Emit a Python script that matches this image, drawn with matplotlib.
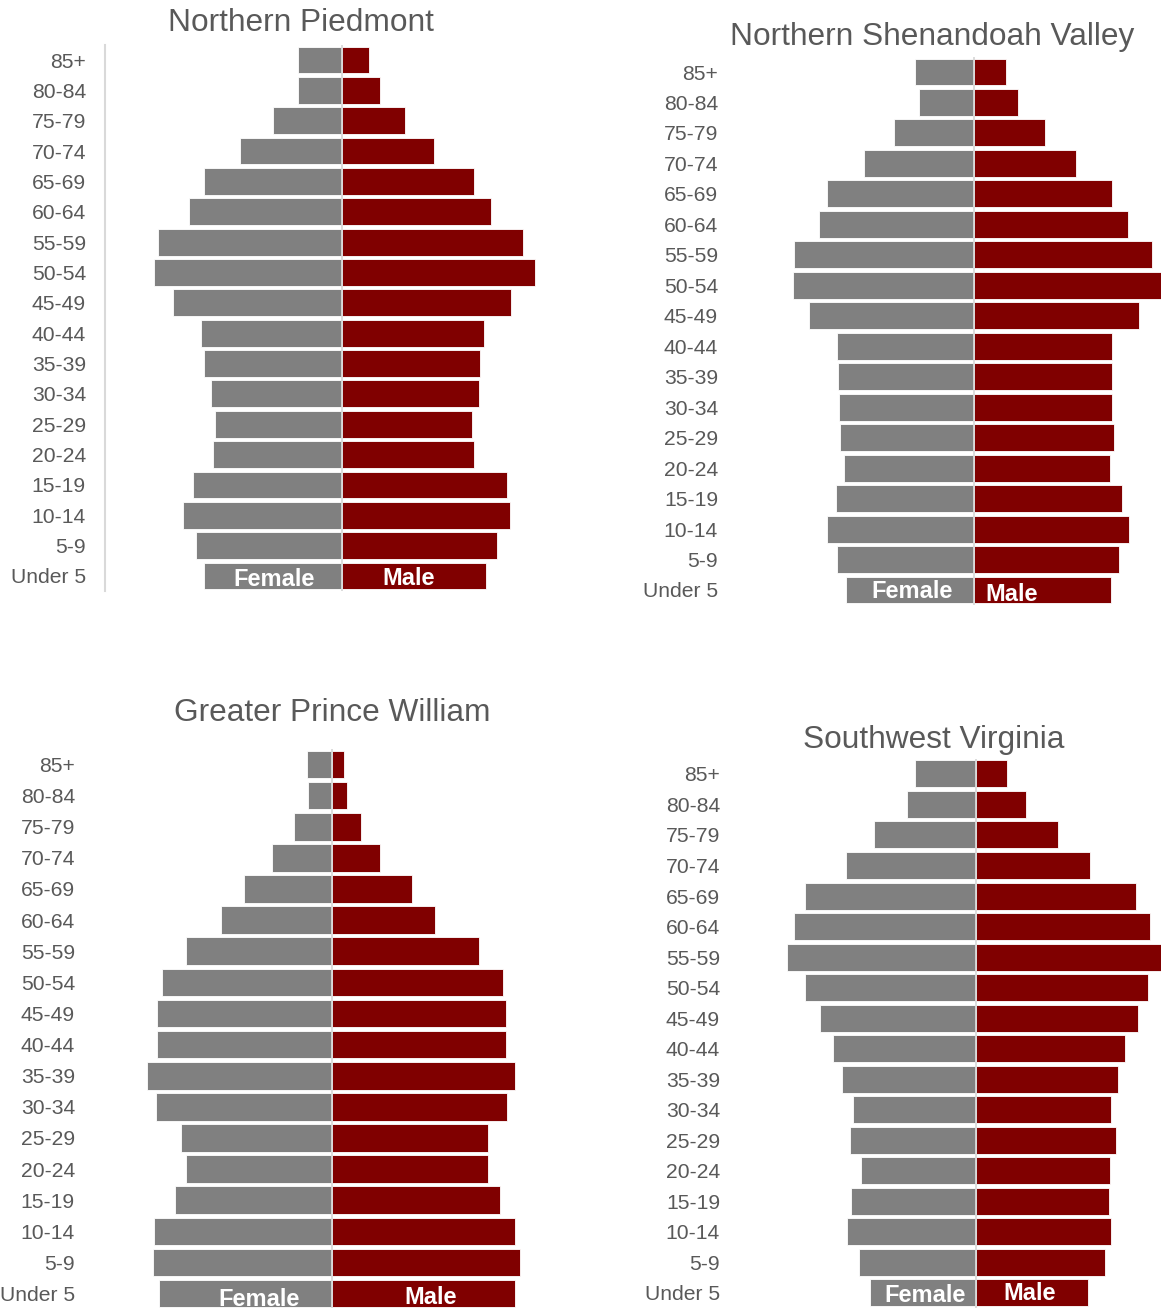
import matplotlib
matplotlib.use("Agg")
import matplotlib.pyplot as plt
import numpy as np

plt.rcParams['font.family'] = ['Liberation Sans', 'DejaVu Sans']

# ---------------- data (percent of population), top row = 85+ ----------------
ages = ["85+", "80-84", "75-79", "70-74", "65-69", "60-64", "55-59", "50-54",
        "45-49", "40-44", "35-39", "30-34", "25-29", "20-24", "15-19", "10-14",
        "5-9", "Under 5"]

piedmont_female = [0.93, 0.94, 1.47, 2.17, 2.93, 3.27, 3.91, 4.01, 3.59, 3.00,
                   2.93, 2.79, 2.70, 2.75, 3.17, 3.39, 3.12, 2.93]
piedmont_male = [0.58, 0.80, 1.33, 1.96, 2.80, 3.16, 3.84, 4.10, 3.59, 3.01,
                 2.94, 2.92, 2.76, 2.81, 3.50, 3.57, 3.29, 3.07]

shenandoah_female = [1.24, 1.16, 1.70, 2.34, 3.11, 3.28, 3.81, 3.85, 3.49, 2.90,
                     2.89, 2.86, 2.84, 2.76, 2.93, 3.11, 2.91, 2.72]
shenandoah_male = [0.69, 0.95, 1.52, 2.19, 2.94, 3.29, 3.80, 4.20, 3.53, 2.94,
                   2.94, 2.94, 2.99, 2.91, 3.16, 3.30, 3.10, 2.93]

pwilliam_female = [0.53, 0.49, 0.79, 1.27, 1.87, 2.35, 3.10, 3.60, 3.72, 3.72,
                   3.92, 3.73, 3.21, 3.10, 3.34, 3.77, 3.79, 3.66]
pwilliam_male = [0.26, 0.32, 0.63, 1.04, 1.72, 2.20, 3.14, 3.64, 3.71, 3.72,
                 3.91, 3.73, 3.33, 3.32, 3.59, 3.91, 4.01, 3.91]

swva_female = [1.29, 1.47, 2.17, 2.75, 3.63, 3.86, 4.02, 3.64, 3.31, 3.04,
               2.85, 2.61, 2.68, 2.44, 2.66, 2.73, 2.49, 2.25]
swva_male = [0.66, 1.08, 1.76, 2.43, 3.41, 3.70, 4.12, 3.67, 3.45, 3.18,
             3.03, 2.88, 2.99, 2.86, 2.84, 2.89, 2.76, 2.40]

titles = ["Northern Piedmont", "Northern Shenandoah Valley",
          "Greater Prince William", "Southwest Virginia"]

# ---------------- layout ----------------
W, H, DPI = 1161, 1308, 100
GRAY = '#808080'
RED = '#800000'
TXT = '#595959'
PX_PER_UNIT = 47.0

fig = plt.figure(figsize=(W / DPI, H / DPI), dpi=DPI)
fig.patch.set_facecolor('white')

layout = [
    dict(female=piedmont_female, male=piedmont_male, center=342.2, top=60.0, bottom=576.0,
         xl=105.5, xr=580, label_right=86, spine=True, title_xy=(300.5, 23),
         fem_xy=(274.5, 580), male_xy=(409, 579)),
    dict(female=shenandoah_female, male=shenandoah_male, center=973.5, top=72.0, bottom=590.0,
         xl=722, xr=1161, label_right=718, spine=False, title_xy=(932.5, 37),
         fem_xy=(912, 592), male_xy=(1011.7, 594)),
    dict(female=pwilliam_female, male=pwilliam_male, center=331.5, top=764.5, bottom=1293.6,
         xl=80, xr=575, label_right=75, spine=False, title_xy=(332.5, 713),
         fem_xy=(259, 1299), male_xy=(431, 1297)),
    dict(female=swva_female, male=swva_male, center=975.6, top=773.9, bottom=1292.9,
         xl=725, xr=1161, label_right=720, spine=False, title_xy=(934, 740),
         fem_xy=(925, 1295.5), male_xy=(1030, 1293.5)),
]


def fx(px):
    return px / W


def fy(py):
    return 1 - py / H


y = np.arange(len(ages))

for title, p in zip(titles, layout):
    pitch = (p['bottom'] - p['top']) / (len(ages) - 1)
    top_px = p['top'] - pitch / 2
    bot_px = p['bottom'] + pitch / 2
    ax = fig.add_axes([fx(p['xl']), fy(bot_px), (p['xr'] - p['xl']) / W,
                       (bot_px - top_px) / H])
    ax.set_facecolor('none')
    fem = np.array(p['female'])
    mal = np.array(p['male'])
    ax.barh(y, -fem, height=0.885, color=GRAY, edgecolor='white', linewidth=0.6, zorder=2)
    ax.barh(y, mal, height=0.885, color=RED, edgecolor='white', linewidth=0.6, zorder=2)
    ax.axvline(0, color='#d9d9d9', linewidth=1.3, zorder=3)
    ax.set_xlim((p['xl'] - p['center']) / PX_PER_UNIT, (p['xr'] - p['center']) / PX_PER_UNIT)
    ax.set_ylim(len(ages) - 0.5, -0.5)
    ax.set_xticks([])
    ax.set_yticks(y)
    ax.set_yticklabels(ages)
    ax.tick_params(axis='y', length=0, pad=(p['xl'] - p['label_right']) * 72 / DPI,
                   labelsize=15.2, labelcolor=TXT)
    for s in ['top', 'right', 'bottom']:
        ax.spines[s].set_visible(False)
    if p['spine']:
        ax.spines['left'].set_color('#d9d9d9')
        ax.spines['left'].set_linewidth(1.5)
    else:
        ax.spines['left'].set_visible(False)

    fig.text(fx(p['title_xy'][0]), fy(p['title_xy'][1]), title, ha='center', va='center',
             fontsize=22.8, color=TXT)
    fig.text(fx(p['fem_xy'][0]), fy(p['fem_xy'][1]), "Female", ha='center', va='center',
             fontsize=17, fontweight='bold', color='white', zorder=10)
    fig.text(fx(p['male_xy'][0]), fy(p['male_xy'][1]), "Male", ha='center', va='center',
             fontsize=17, fontweight='bold', color='white', zorder=10)

fig.savefig("out.png", dpi=DPI, facecolor='white')
